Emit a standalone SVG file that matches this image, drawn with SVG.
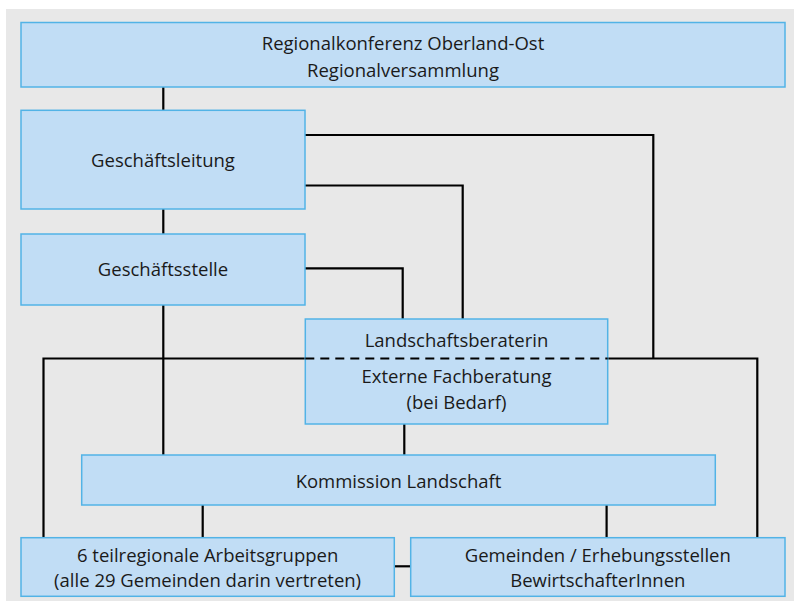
<svg xmlns="http://www.w3.org/2000/svg" width="794" height="601" viewBox="0 0 794 601">
<style>
.box{fill:#c1ddf5;stroke:#52b3e6;stroke-width:1.5}
.t{font-family:"Open Sans","Noto Sans",sans-serif;font-size:18.5px;fill:#1a1a1a;text-anchor:middle}
.c{fill:none;stroke:#000;stroke-width:2.2}
.d{fill:none;stroke:#000;stroke-width:2.2;stroke-dasharray:9 6}
</style>
<rect x="0" y="0" width="794" height="601" fill="#ffffff"/>
<rect x="6" y="9" width="788" height="592" fill="#e8e8e8"/>
<g id="connectors">
<path class="c" d="M163.3 87V110M163.3 209V234M163.3 305V455"/>
<path class="c" d="M305 135H653.3V358.5"/>
<path class="c" d="M305 185.5H462.7V319"/>
<path class="c" d="M305 268.3H402.7V319"/>
<path class="c" d="M43.5 538V358.5H305"/>
<path class="c" d="M608 358.5H757.3V538"/>
<path class="c" d="M404.3 424V455"/>
<path class="c" d="M202.7 505V538M606.6 505V538"/>
<path class="c" d="M394 566.3H411"/>
</g>
<g id="n1"><rect class="box" x="21" y="22.5" width="764" height="64.5"/>
<text class="t" x="403" y="49.5">Regionalkonferenz Oberland-Ost</text>
<text class="t" x="403" y="76.5">Regionalversammlung</text></g>
<g id="n2"><rect class="box" x="21" y="110.3" width="284" height="98.7"/>
<text class="t" x="163" y="166.5">Geschäftsleitung</text></g>
<g id="n3"><rect class="box" x="21" y="234" width="284" height="71"/>
<text class="t" x="163" y="276">Geschäftsstelle</text></g>
<g id="n4"><rect class="box" x="305.3" y="319" width="302.4" height="105"/>
<text class="t" x="456.5" y="346.7">Landschaftsberaterin</text>
<text class="t" x="456.5" y="382.5">Externe Fachberatung</text>
<text class="t" x="456.5" y="408.5">(bei Bedarf)</text></g>
<path id="dash" class="d" d="M305.3 358.5H607.7"/>
<g id="n5"><rect class="box" x="81.7" y="455" width="633.6" height="50"/>
<text class="t" x="398.5" y="488.3">Kommission Landschaft</text></g>
<g id="n6"><rect class="box" x="21" y="537.7" width="373.3" height="58.6"/>
<text class="t" x="207.6" y="561.7">6 teilregionale Arbeitsgruppen</text>
<text class="t" x="207.6" y="587.3">(alle 29 Gemeinden darin vertreten)</text></g>
<g id="n7"><rect class="box" x="410.7" y="537.7" width="374.3" height="58.6"/>
<text class="t" x="597.8" y="561.7">Gemeinden / Erhebungsstellen</text>
<text class="t" x="597.8" y="587.3">BewirtschafterInnen</text></g>
</svg>
